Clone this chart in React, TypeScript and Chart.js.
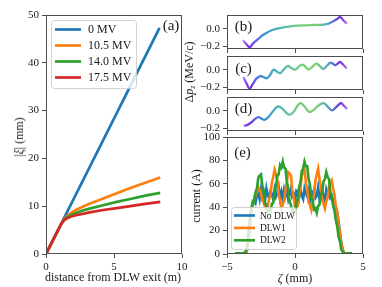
import React, { useEffect, useRef } from "react";
import { Chart, registerables } from "chart.js";

Chart.register(...registerables);

const W = 382;
const H = 287;
const FONT = "'Liberation Serif', 'DejaVu Serif', serif";
const TEXT = "#1a1a1a";
const SPINE = "#4d4d4d";
const C_BLUE = "#1f77b4";
const C_ORANGE = "#ff7f0e";
const C_GREEN = "#2ca02c";
const C_RED = "#d62728";

// ---------- panel (a) ----------
const voltageLabels = ["0 MV", "10.5 MV", "14.0 MV", "17.5 MV"];
const distanceBlue = [0, 8.35];
const xi0MV = [0, 47.3];
const distance = [0, 1.1, 1.3, 1.5, 1.8, 2.2, 2.7, 3.2, 4.2, 5.2, 6.2, 7.3, 8.4];
const xi105MV = [0, 6.2, 7.1, 7.8, 8.5, 9.2, 9.9, 10.5, 11.6, 12.7, 13.8, 14.9, 16.0];
const xi140MV = [0, 6.2, 7.0, 7.6, 8.1, 8.6, 9.1, 9.5, 10.2, 10.9, 11.5, 12.2, 12.8];
const xi175MV = [0, 6.2, 7.0, 7.4, 7.8, 8.1, 8.4, 8.7, 9.2, 9.6, 10.0, 10.5, 10.9];
const distTicks = [0, 5, 10];
const xiTicks = [0, 10, 20, 30, 40, 50];

// ---------- panels (b), (c), (d) ----------
const zetaB = [-3.85, -3.6, -3.34, -3.1, -2.9, -2.68, -2.45, -2.19, -1.8, -1.33, -0.8, -0.35, 0.15, 0.63, 1.2, 1.7, 2.1, 2.47, 2.84, 3.1, 3.33, 3.55, 3.82];
const dpB = [-0.13, -0.17, -0.208, -0.17, -0.14, -0.112, -0.08, -0.054, -0.02, 0.003, 0.02, 0.03, 0.037, 0.041, 0.045, 0.047, 0.05, 0.062, 0.09, 0.115, 0.137, 0.1, 0.06];
const zetaC = [-3.8, -3.55, -3.34, -3.1, -2.85, -2.68, -2.5, -2.28, -2.06, -1.8, -1.57, -1.32, -1.08, -0.8, -0.54, -0.25, 0.02, 0.26, 0.51, 0.75, 1.0, 1.3, 1.57, 1.85, 2.1, 2.35, 2.6, 2.8, 2.96, 3.15, 3.33, 3.55, 3.82];
const dpC = [-0.08, -0.16, -0.215, -0.16, -0.1, -0.08, -0.072, -0.085, -0.095, -0.05, 0.003, -0.02, -0.036, 0.01, 0.045, 0.02, 0.003, 0.035, 0.061, 0.04, 0.007, 0.04, 0.072, 0.04, 0.012, 0.05, 0.084, 0.07, 0.055, 0.075, 0.091, 0.06, 0.015];
const zetaD = [-3.78, -3.5, -3.2, -2.95, -2.68, -2.45, -2.2, -1.9, -1.6, -1.28, -0.95, -0.65, -0.4, -0.1, 0.15, 0.39, 0.65, 0.85, 1.07, 1.35, 1.7, 2.1, 2.4, 2.72, 3.0, 3.2, 3.38, 3.6, 3.85];
const dpD = [-0.17, -0.16, -0.13, -0.095, -0.07, -0.09, -0.1, -0.06, 0.0, 0.05, 0.03, -0.02, -0.043, -0.01, 0.05, 0.09, 0.06, 0.02, -0.012, 0.01, 0.06, 0.09, 0.05, 0.007, 0.04, 0.07, 0.09, 0.06, 0.02];
const dpTicks = [-0.2, 0.0];
const zetaTicks = [-5, 0, 5];

// ---------- panel (e) ----------
const currentLabels = ["No DLW", "DLW1", "DLW2"];
const zetaE = [
  -4.4, -4.0, -3.7, -3.6, -3.5, -3.4, -3.3, -3.2, -3.1, -3.0,
  -2.9, -2.8, -2.7, -2.6, -2.5, -2.4, -2.3, -2.2, -2.1, -2.0,
  -1.9, -1.8, -1.7, -1.6, -1.5, -1.4, -1.3, -1.2, -1.1, -1.0,
  -0.9, -0.8, -0.7, -0.6, -0.5, -0.4, -0.3, -0.2, -0.1, 0.0,
  0.1, 0.2, 0.3, 0.4, 0.5, 0.6, 0.7, 0.8, 0.9, 1.0,
  1.1, 1.2, 1.3, 1.4, 1.5, 1.6, 1.7, 1.8, 1.9, 2.0,
  2.1, 2.2, 2.3, 2.4, 2.5, 2.6, 2.7, 2.8, 2.9, 3.0,
  3.1, 3.2, 3.3, 3.4, 3.5, 3.6, 3.7, 4.0, 4.2,
];
const currentNoDLW = [
  0, 0, 0, 1, 4, 12, 26, 38, 42, 47,
  44, 50, 53, 47, 55, 49, 53, 46, 56, 50,
  48, 54, 51, 47, 55, 49, 52, 57, 48, 53,
  46, 55, 50, 54, 47, 52, 56, 49, 51, 46,
  54, 53, 48, 55, 50, 47, 56, 52, 49, 54,
  46, 53, 51, 55, 48, 50, 57, 47, 52, 54,
  49, 46, 55, 51, 53, 48, 50, 46, 44, 40,
  36, 28, 19, 10, 4, 1, 0, 0, 0,
];
const currentDLW1 = [
  0, 0, 0, 1, 5, 14, 27, 37, 43, 46,
  50, 53, 57, 55, 52, 46, 44, 40, 42, 41,
  47, 51, 61, 66, 72, 68, 63, 51, 46, 39,
  43, 45, 55, 61, 70, 69, 67, 55, 49, 41,
  40, 41, 50, 56, 67, 70, 72, 61, 55, 44,
  42, 38, 46, 50, 63, 68, 73, 64, 58, 46,
  43, 39, 45, 48, 58, 61, 63, 56, 51, 41,
  36, 26, 18, 9, 4, 1, 0, 0, 0,
];
const currentDLW2 = [
  0.5, 0.5, 1, 3, 10, 22, 34, 40, 45, 44,
  53, 56, 65, 67, 68, 58, 53, 43, 42, 36,
  38, 36, 43, 44, 53, 57, 67, 68, 76, 74,
  79, 74, 73, 62, 56, 45, 42, 36, 38, 37,
  44, 47, 57, 61, 71, 73, 79, 75, 75, 64,
  59, 48, 46, 38, 39, 35, 41, 42, 50, 53,
  62, 64, 70, 66, 64, 53, 49, 41, 37, 29,
  24, 15, 11, 4, 2, 0.5, 0.5, 0.5, 0.5,
];
const currentTicks = [0, 20, 40, 60, 80, 100];

// colour map along the bunch for the phase-space panels (style)
const phaseStops: [number, string][] = [
  [-4.0, "rgba(175,120,240,0.35)"],
  [-3.65, "#9050e4"],
  [-3.3, "#7428d8"],
  [-2.9, "#5868e0"],
  [-2.3, "#3f8fd8"],
  [-1.2, "#4fb5b8"],
  [0.0, "#6ccb86"],
  [1.5, "#80d070"],
  [2.4, "#4ea8c8"],
  [2.95, "#5a5ede"],
  [3.35, "#7a2cd8"],
  [3.7, "#9a60e6"],
  [4.0, "rgba(185,140,240,0.3)"],
];

const minus = (s: string) => s.replace("-", "\u2212");

const framePlugin = {
  id: "frame",
  afterDatasetsDraw(chart: any) {
    const { ctx, chartArea: a } = chart;
    ctx.save();
    ctx.strokeStyle = SPINE;
    ctx.lineWidth = 1;
    const l = Math.round(a.left) + 0.5;
    const t = Math.round(a.top) + 0.5;
    const r = Math.round(a.right) - 0.5;
    const b = Math.round(a.bottom) - 0.5;
    ctx.strokeRect(l, t, r - l, b - t);
    ctx.restore();
  },
};

const boxLegend = {
  id: "boxLegend",
  afterDatasetsDraw(chart: any, _args: any, o: any) {
    if (!o || !o.box) return;
    const ctx = chart.ctx;
    const [x, y, w, h] = o.box;
    ctx.save();
    ctx.beginPath();
    ctx.roundRect(x + 0.5, y + 0.5, w, h, 3);
    ctx.fillStyle = "rgba(255,255,255,0.8)";
    ctx.fill();
    ctx.strokeStyle = "rgba(204,204,204,0.9)";
    ctx.lineWidth = 1;
    ctx.stroke();
    const items = chart.data.datasets.filter((d: any) => d.label);
    items.forEach((d: any, i: number) => {
      const cy = o.rowY + i * o.rowGap;
      ctx.strokeStyle = d.borderColor;
      ctx.lineWidth = o.lineW;
      ctx.beginPath();
      ctx.moveTo(o.lineX0, cy);
      ctx.lineTo(o.lineX1, cy);
      ctx.stroke();
      ctx.fillStyle = TEXT;
      ctx.font = `${o.fontSize}px ${FONT}`;
      ctx.textBaseline = "middle";
      ctx.textAlign = "left";
      ctx.fillText(d.label, o.textX, cy + 0.5);
    });
    ctx.restore();
  },
};

Chart.register(framePlugin, boxLegend);

function axis(min: number, max: number, ticks: number[], dir: "x" | "y", size: number, labels: boolean, fmt: (v: number) => string) {
  return {
    type: "linear",
    min,
    max,
    afterBuildTicks: (s: any) => {
      s.ticks = ticks.map((v) => ({ value: v }));
    },
    afterFit: (s: any) => {
      if (dir === "x") s.height = size;
      else s.width = size;
    },
    grid: { display: true, drawOnChartArea: false, drawTicks: true, tickLength: 4, color: SPINE, lineWidth: 1 },
    border: { display: false },
    ticks: {
      display: labels,
      padding: 3,
      color: TEXT,
      autoSkip: false,
      maxRotation: 0,
      font: { family: FONT, size: 11 },
      callback: (v: any) => fmt(Number(v)),
    },
  };
}

const pts = (xs: number[], ys: number[]) => xs.map((x, i) => ({ x, y: ys[i] }));

const baseOptions = (padding: any) => ({
  responsive: false,
  animation: false,
  events: [],
  layout: { padding },
  elements: { point: { radius: 0 } },
  plugins: { legend: { display: false }, tooltip: { enabled: false } },
});

function phaseColor(ctx: any) {
  const chart = ctx.chart;
  if (!chart.chartArea || !chart.scales.x) return "#4f9fd0";
  const xs = chart.scales.x;
  const x0 = xs.getPixelForValue(-4);
  const x1 = xs.getPixelForValue(4);
  const g = chart.ctx.createLinearGradient(x0, 0, x1, 0);
  phaseStops.forEach(([z, c]) => g.addColorStop((z + 4) / 8, c));
  return g;
}

function configA() {
  return {
    type: "line",
    data: {
      datasets: [
        { label: voltageLabels[0], data: pts(distanceBlue, xi0MV), borderColor: C_BLUE, order: 4 },
        { label: voltageLabels[1], data: pts(distance, xi105MV), borderColor: C_ORANGE, order: 3 },
        { label: voltageLabels[2], data: pts(distance, xi140MV), borderColor: C_GREEN, order: 2 },
        { label: voltageLabels[3], data: pts(distance, xi175MV), borderColor: C_RED, order: 1 },
      ].map((d) => ({ ...d, borderWidth: 2.7, fill: false, tension: 0, borderCapStyle: "butt" })),
    },
    options: {
      ...baseOptions({ left: 6, top: 15, right: 200, bottom: 11 }),
      scales: {
        x: axis(0, 10, distTicks, "x", 22, true, (v) => String(v)),
        y: axis(0, 50, xiTicks, "y", 40, true, (v) => String(v)),
      },
      plugins: {
        legend: { display: false },
        tooltip: { enabled: false },
        boxLegend: { box: [51, 20, 85, 68], rowY: 29.5, rowGap: 16, lineX0: 55, lineX1: 81, lineW: 2.7, textX: 88, fontSize: 12 },
      },
    },
  };
}

function configPhase(z: number[], dp: number[], top: number, bottom: number) {
  return {
    type: "line",
    data: {
      datasets: [
        { data: pts(z, dp), borderColor: phaseColor, borderWidth: 2.3, fill: false, tension: 0.4 },
      ],
    },
    options: {
      ...baseOptions({ left: 187, top, right: 19, bottom: H - bottom - 22 }),
      scales: {
        x: axis(-5, 5, zetaTicks, "x", 22, false, (v) => minus(String(v))),
        y: axis(-0.23, 0.16, dpTicks, "y", 40, true, (v) => minus(v.toFixed(1))),
      },
    },
  };
}

function configE() {
  return {
    type: "line",
    data: {
      datasets: [
        { label: currentLabels[0], data: pts(zetaE, currentNoDLW), borderColor: C_BLUE, order: 3 },
        { label: currentLabels[1], data: pts(zetaE, currentDLW1), borderColor: C_ORANGE, order: 2 },
        { label: currentLabels[2], data: pts(zetaE, currentDLW2), borderColor: C_GREEN, order: 1 },
      ].map((d) => ({ ...d, borderWidth: 2.6, fill: false, tension: 0 })),
    },
    options: {
      ...baseOptions({ left: 187, top: 137, right: 19, bottom: 11 }),
      scales: {
        x: axis(-5, 5, zetaTicks, "x", 22, true, (v) => minus(String(v))),
        y: axis(0, 100, currentTicks, "y", 40, true, (v) => String(v)),
      },
      plugins: {
        legend: { display: false },
        tooltip: { enabled: false },
        boxLegend: { box: [231, 207, 65, 42], rowY: 215.5, rowGap: 12.4, lineX0: 234, lineX1: 255, lineW: 2.6, textX: 260, fontSize: 9.5 },
      },
    },
  };
}

function ChartLayer({ make }: { make: () => any }) {
  const ref = useRef<HTMLCanvasElement>(null);
  useEffect(() => {
    const chart = new Chart(ref.current as HTMLCanvasElement, make());
    return () => chart.destroy();
  }, []);
  return (
    <canvas
      ref={ref}
      width={W}
      height={H}
      style={{ position: "absolute", left: 0, top: 0, width: W, height: H }}
    />
  );
}

const labelStyle = (x: number, y: number, size: number, rotate = false): React.CSSProperties => ({
  position: "absolute",
  left: x,
  top: y,
  transform: `translate(-50%, -50%)${rotate ? " rotate(-90deg)" : ""}`,
  whiteSpace: "nowrap",
  fontSize: size,
  lineHeight: 1,
  color: TEXT,
  fontFamily: FONT,
});

export default function App() {
  useEffect(() => {
    document.body.style.margin = "0";
  }, []);
  return (
    <div style={{ position: "fixed", left: 0, top: 0, width: W, height: H, background: "#fff", overflow: "hidden" }}>
      <ChartLayer make={configA} />
      <ChartLayer make={() => configPhase(zetaB, dpB, 15, 49)} />
      <ChartLayer make={() => configPhase(zetaC, dpC, 56, 90)} />
      <ChartLayer make={() => configPhase(zetaD, dpD, 97, 131)} />
      <ChartLayer make={configE} />

      <div style={labelStyle(171, 24.5, 15)}>(a)</div>
      <div style={labelStyle(243.5, 26, 15)}>(b)</div>
      <div style={labelStyle(243.5, 67.5, 15)}>(c)</div>
      <div style={labelStyle(243.5, 108, 15)}>(d)</div>
      <div style={labelStyle(242.5, 152, 15)}>(e)</div>

      <div style={labelStyle(113, 277, 12)}>distance from DLW exit (m)</div>
      <div style={labelStyle(19, 137, 12, true)}>
        |<i>ξ</i>| (mm)
      </div>
      <div style={labelStyle(190, 72, 12, true)}>
        Δ<i>p</i>
        <sub style={{ fontSize: 8, verticalAlign: "-2px" }}>
          <i>z</i>
        </sub>{" "}
        (MeV/c)
      </div>
      <div style={labelStyle(196, 195.5, 12, true)}>current (A)</div>
      <div style={labelStyle(295, 278, 12)}>
        <i>ζ</i> (mm)
      </div>
    </div>
  );
}
